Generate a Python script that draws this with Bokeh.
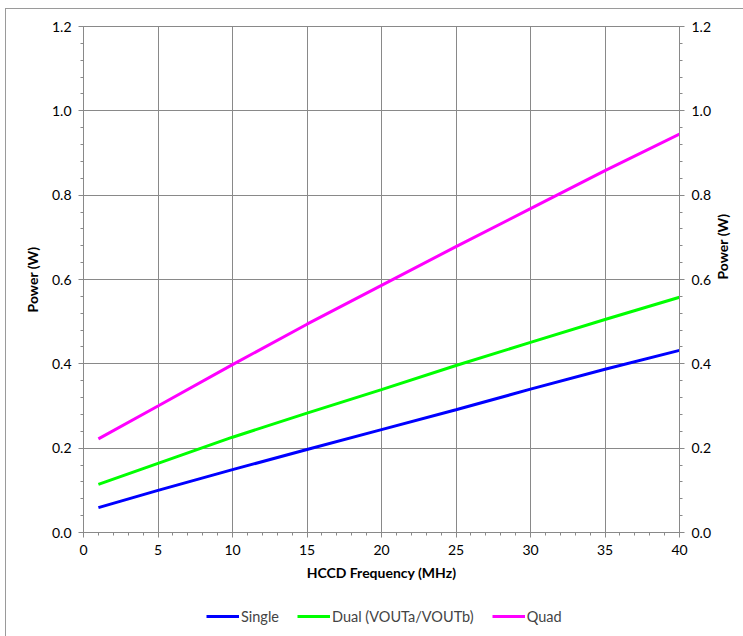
import math
from bokeh.plotting import figure
from bokeh.layouts import column
from bokeh.models import LinearAxis, Range1d, Legend, LegendItem, FixedTicker, NumeralTickFormatter
from bokeh.embed import file_html
from bokeh.resources import INLINE

freq = [1, 5, 10, 15, 20, 25, 30, 35, 40]
single = [0.059, 0.100, 0.149, 0.197, 0.244, 0.291, 0.340, 0.387, 0.432]
dual = [0.114, 0.164, 0.226, 0.283, 0.339, 0.396, 0.451, 0.505, 0.558]
quad = [0.222, 0.300, 0.398, 0.494, 0.586, 0.678, 0.768, 0.858, 0.945]
names = ["Single", "Dual (VOUTa/VOUTb)", "Quad"]
colors = ["#0000FF", "#00FF00", "#FF00FF"]
x_ticks = [0, 5, 10, 15, 20, 25, 30, 35, 40]
y_ticks = [0.0, 0.2, 0.4, 0.6, 0.8, 1.0, 1.2]

FONT = "Lato"
GRID = "#898989"

x_minor = [i for i in range(0, 41)]
y_minor = [round(i * 0.04, 2) for i in range(0, 31)]

p = figure(frame_width=596, frame_height=506, x_range=Range1d(0, 40), y_range=Range1d(0, 1.2),
           output_backend="svg", toolbar_location=None,
           min_border_left=77, min_border_right=64, min_border_top=17, min_border_bottom=60)
p.outline_line_color = GRID
p.background_fill_color = "white"
p.border_fill_color = "white"

for ys, c in zip([single, dual, quad], colors):
    p.line(freq, ys, line_color=c, line_width=3)

xt = FixedTicker(ticks=x_ticks, minor_ticks=x_minor)
yt = FixedTicker(ticks=y_ticks, minor_ticks=y_minor)
p.xaxis.ticker = xt
p.yaxis.ticker = yt
p.yaxis.formatter = NumeralTickFormatter(format="0.0")
p.xgrid.ticker = xt
p.ygrid.ticker = yt
p.grid.grid_line_color = GRID
p.grid.grid_line_width = 1

right = LinearAxis(ticker=FixedTicker(ticks=y_ticks, minor_ticks=y_minor),
                   formatter=NumeralTickFormatter(format="0.0"))
p.add_layout(right, "right")

for ax in p.xaxis + p.yaxis:
    ax.axis_line_color = GRID
    ax.major_tick_line_color = GRID
    ax.minor_tick_line_color = GRID
    ax.major_tick_out = 5
    ax.major_tick_in = 0
    ax.minor_tick_out = 3
    ax.minor_tick_in = 0
    ax.major_label_text_font = FONT
    ax.major_label_text_font_size = "14px"
    ax.major_label_text_color = "black"
    ax.axis_label_text_font = FONT
    ax.axis_label_text_font_size = "14px"
    ax.axis_label_text_font_style = "bold"
    ax.axis_label_text_color = "black"
    ax.major_label_standoff = 7

p.xaxis.axis_label = "HCCD Frequency (MHz)"
p.xaxis.axis_label_standoff = 6
for ax in p.yaxis:
    ax.axis_label = "Power (W)"
    ax.axis_label_standoff = 8
right.axis_label_orientation = math.pi / 2

# legend strip below the chart (its lines lie outside its view, only the legend shows)
lf = figure(width=737, height=45, x_range=Range1d(100, 200), y_range=Range1d(0, 1.2),
            output_backend="svg", toolbar_location=None,
            min_border_left=0, min_border_right=0, min_border_top=0, min_border_bottom=0)
lf.axis.visible = False
lf.grid.visible = False
lf.outline_line_color = None
lf.border_fill_color = "white"
lrs = [lf.line(freq, ys, line_color=c, line_width=3) for ys, c in zip([single, dual, quad], colors)]

legend = Legend(items=[LegendItem(label=n, renderers=[r]) for n, r in zip(names, lrs)],
                orientation="horizontal", location=(123, 11))
legend.border_line_color = None
legend.background_fill_alpha = 0
legend.label_text_font = FONT
legend.label_text_font_size = "14.5px"
legend.glyph_width = 33
legend.label_standoff = 2
legend.spacing = 18
legend.margin = 0
legend.padding = 0
lf.add_layout(legend, "center")

layout = column(p, lf, spacing=0, margin=(8, 0, 0, 5))
layout.styles = {"border-top": "1px solid #9a9a9a", "border-left": "1px solid #9a9a9a"}

open("out.html", "w").write(file_html(layout, INLINE))
